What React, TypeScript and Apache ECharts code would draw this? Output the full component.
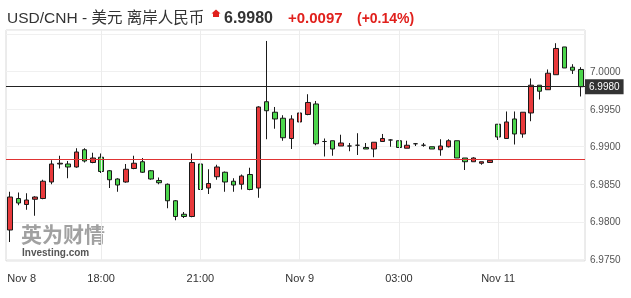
import React, { useEffect, useRef } from "react";
import * as echarts from "echarts";

const times = [
  "11-08 15:15", "11-08 15:30", "11-08 15:45", "11-08 16:00", "11-08 16:15", "11-08 16:30", "11-08 16:45",
  "11-08 17:00", "11-08 17:15", "11-08 17:30", "11-08 17:45", "11-08 18:00", "11-08 18:15", "11-08 18:30",
  "11-08 18:45", "11-08 19:00", "11-08 19:15", "11-08 19:30", "11-08 19:45", "11-08 20:00", "11-08 20:15",
  "11-08 20:30", "11-08 20:45", "11-08 21:00", "11-08 21:15", "11-08 21:30", "11-08 21:45", "11-08 22:00",
  "11-08 22:15", "11-08 22:30", "11-08 22:45", "11-08 23:00", "11-08 23:15", "11-08 23:30", "11-08 23:45",
  "11-09 00:00", "11-09 00:15", "11-09 00:30", "11-09 00:45", "11-09 01:00", "11-09 01:15", "11-09 01:30",
  "11-09 01:45", "11-09 02:00", "11-09 02:15", "11-09 02:30", "11-09 02:45", "11-09 03:00", "11-09 03:15",
  "11-09 03:30", "11-09 03:45", "11-09 04:00", "11-09 04:15", "11-09 04:30", "11-09 04:45", "11-09 05:00",
  "11-09 05:15", "11-09 05:30", "11-09 05:45",
  "11-11 06:00", "11-11 06:15", "11-11 06:30", "11-11 06:45", "11-11 07:00", "11-11 07:15", "11-11 07:30",
  "11-11 07:45", "11-11 08:00", "11-11 08:15", "11-11 08:30",
];

const openV = [
  6.9789, 6.9831, 6.9823, 6.9830, 6.9831, 6.9853, 6.9877, 6.9877, 6.9873, 6.9896,
  6.9879, 6.9886, 6.9868, 6.9857, 6.9853, 6.9871, 6.9880, 6.9868, 6.9855, 6.9850,
  6.9828, 6.9810, 6.9807, 6.9877, 6.9845, 6.9860, 6.9866, 6.9854, 6.9850, 6.9863,
  6.9845, 6.9960, 6.9946, 6.9938, 6.9911, 6.9933, 6.9943, 6.9957, 6.9907, 6.9908,
  6.9901, 6.9901, 6.9902, 6.9899, 6.9897, 6.9907, 6.9909, 6.9908, 6.9898, 6.9904,
  6.9902, 6.9900, 6.9896, 6.9900, 6.9908, 6.9885, 6.9880, 6.9878, 6.9879, 6.9930,
  6.9911, 6.9937, 6.9917, 6.9945, 6.9982, 6.9976, 6.9996, 7.0033, 7.0006, 7.0003,
];
const closeV = [
  6.9833, 6.9825, 6.9829, 6.9833, 6.9854, 6.9877, 6.9878, 6.9873, 6.9893, 6.9881,
  6.9885, 6.9867, 6.9856, 6.9849, 6.9870, 6.9878, 6.9866, 6.9857, 6.9852, 6.9828,
  6.9807, 6.9807, 6.9879, 6.9843, 6.9851, 6.9873, 6.9853, 6.9849, 6.9861, 6.9843,
  6.9953, 6.9948, 6.9937, 6.9912, 6.9937, 6.9945, 6.9959, 6.9904, 6.9907, 6.9897,
  6.9905, 6.9901, 6.9902, 6.9897, 6.9906, 6.9911, 6.9909, 6.9899, 6.9902, 6.9904,
  6.9902, 6.9897, 6.9901, 6.9908, 6.9885, 6.9880, 6.9885, 6.9880, 6.9882, 6.9913,
  6.9933, 6.9917, 6.9946, 6.9982, 6.9974, 6.9998, 7.0031, 7.0005, 7.0002, 6.9980,
];
const lowV = [
  6.9773, 6.9822, 6.9816, 6.9808, 6.9830, 6.9850, 6.9871, 6.9858, 6.9872, 6.9879,
  6.9878, 6.9865, 6.9845, 6.9840, 6.9852, 6.9870, 6.9865, 6.9856, 6.9850, 6.9818,
  6.9802, 6.9805, 6.9806, 6.9833, 6.9837, 6.9856, 6.9840, 6.9840, 6.9843, 6.9842,
  6.9832, 6.9910, 6.9924, 6.9908, 6.9897, 6.9925, 6.9942, 6.9902, 6.9887, 6.9888,
  6.9901, 6.9894, 6.9889, 6.9897, 6.9886, 6.9907, 6.9900, 6.9899, 6.9898, 6.9901,
  6.9900, 6.9897, 6.9888, 6.9899, 6.9885, 6.9869, 6.9880, 6.9876, 6.9879, 6.9909,
  6.9911, 6.9903, 6.9912, 6.9934, 6.9963, 6.9976, 6.9996, 7.0005, 6.9997, 6.9967,
];
const highV = [
  6.9840, 6.9839, 6.9838, 6.9834, 6.9856, 6.9882, 6.9888, 6.9881, 6.9898, 6.9898,
  6.9892, 6.9891, 6.9869, 6.9858, 6.9877, 6.9888, 6.9885, 6.9869, 6.9859, 6.9851,
  6.9829, 6.9813, 6.9891, 6.9891, 6.9870, 6.9876, 6.9867, 6.9858, 6.9863, 6.9872,
  6.9954, 7.0041, 6.9953, 6.9942, 6.9942, 6.9954, 6.9970, 6.9961, 6.9911, 6.9908,
  6.9916, 6.9905, 6.9918, 6.9905, 6.9906, 6.9917, 6.9910, 6.9908, 6.9908, 6.9905,
  6.9905, 6.9900, 6.9910, 6.9910, 6.9908, 6.9885, 6.9886, 6.9880, 6.9883, 6.9930,
  6.9947, 6.9947, 6.9946, 6.9991, 6.9982, 7.0003, 7.0038, 7.0033, 7.0010, 7.0006,
];

const tickIndex = [0, 11, 23, 35, 47, 59];
const tickText = ["Nov 8", "18:00", "21:00", "Nov 9", "03:00", "Nov 11"];

const lastPrice = 6.998;
const prevClose = 6.9883;
const yMin = 6.97477;
const yMax = 7.00556;

const titleText = "USD/CNH - 美元 离岸人民币";
const priceText = "6.9980";
const changeText = "+0.0097";
const pctText = "(+0.14%)";

const LAT = '"Liberation Sans", Arial, "Noto Sans CJK SC", sans-serif';

export default function App() {
  const ref = useRef<HTMLDivElement>(null);
  useEffect(() => {
    if (!ref.current) return;
    const chart = echarts.init(ref.current, null, { renderer: "svg" });
    const data = openV.map((o, i) => [o, closeV[i], lowV[i], highV[i]]);
    const vLines = tickIndex.slice(1).map((i) => ({
      xAxis: times[i],
      lineStyle: { color: "#ececec", width: 1, type: "solid" },
      label: { show: false },
    }));
    chart.setOption({
      animation: false,
      grid: {
        left: 6, top: 30, right: 46, bottom: 37,
        show: true, borderColor: "#d8d8d8", borderWidth: 1,
      },
      xAxis: {
        type: "category",
        data: times,
        boundaryGap: true,
        axisLine: { show: false },
        axisTick: { show: false },
        splitLine: { show: false },
        axisLabel: {
          interval: (i: number) => tickIndex.includes(i),
          formatter: (_v: string, i: number) => {
            const k = tickIndex.indexOf(i);
            if (k < 0) return "";
            return k === 0 ? "{first|" + tickText[k] + "}" : tickText[k];
          },
          color: "#333",
          fontSize: 11,
          fontFamily: LAT,
          margin: 11,
          rich: {
            first: { padding: [0, 0, 0, 23], fontSize: 11, color: "#333", fontFamily: LAT },
          },
        },
      },
      yAxis: {
        type: "value",
        position: "right",
        min: yMin,
        max: yMax,
        splitNumber: 5,
        axisLine: { show: false },
        axisTick: { show: false },
        splitLine: { lineStyle: { color: "#f0f0f0" } },
        axisLabel: {
          formatter: (v: number) => (v < 6.9749 || v > 7.0001 ? "" : v.toFixed(4)),
          color: "#555",
          fontSize: 10,
          fontFamily: LAT,
          margin: 5,
        },
      },
      series: [
        {
          type: "line",
          data: closeV.map(() => null),
          showSymbol: false,
          silent: true,
          z: 1,
          lineStyle: { opacity: 0 },
          markLine: {
            silent: true,
            symbol: ["none", "none"],
            precision: 6,
            animation: false,
            data: [
              ...vLines,
              {
                yAxis: lastPrice,
                lineStyle: { color: "#222", width: 1, type: "solid", opacity: 1 },
                label: {
                  show: true,
                  position: "end",
                  formatter: priceText,
                  color: "#fff",
                  backgroundColor: "#333",
                  padding: [3, 4, 2, 4],
                  fontSize: 10,
                  fontFamily: LAT,
                  distance: 0,
                },
              },
            ],
          },
        },
        {
          type: "line",
          data: closeV.map(() => null),
          showSymbol: false,
          silent: true,
          z: 2,
          color: "#e03434",
          lineStyle: { opacity: 0 },
          markLine: {
            silent: true,
            symbol: ["none", "none"],
            precision: 6,
            animation: false,
            lineStyle: { color: "#e03434", width: 1, type: "solid", opacity: 1 },
            label: { show: false },
            data: [{ yAxis: prevClose }],
          },
        },
        {
          type: "candlestick",
          data,
          barWidth: 5,
          silent: true,
          z: 3,
          itemStyle: {
            color: "#e8393b",
            color0: "#4cd64c",
            borderColor: "#1a1a1a",
            borderColor0: "#1a1a1a",
            borderWidth: 1,
          },
        },
      ],
      graphic: [
        {
          type: "text", x: 7, y: 17.5,
          style: { text: titleText, fill: "#333", font: "15.5px " + LAT, verticalAlign: "middle", align: "left" },
        },
        {
          type: "polygon",
          shape: { points: [[216, 9.5], [220.5, 13.5], [219, 13.5], [219, 17], [213, 17], [213, 13.5], [211.5, 13.5]] },
          style: { fill: "#e0201c" },
        },
        {
          type: "text", x: 224, y: 17.5,
          style: { text: priceText, fill: "#333", font: "bold 16px " + LAT, verticalAlign: "middle", align: "left" },
        },
        {
          type: "text", x: 288, y: 17.5,
          style: { text: changeText, fill: "#e0201c", font: "bold 15px " + LAT, verticalAlign: "middle", align: "left" },
        },
        {
          type: "text", x: 357, y: 17.5,
          style: { text: pctText, fill: "#e0201c", font: "bold 14px " + LAT, verticalAlign: "middle", align: "left" },
        },
        {
          type: "text", x: 21, y: 233,
          style: { text: "英为财情", fill: "rgba(130,130,130,0.75)", font: 'bold 21px "Noto Sans CJK SC", sans-serif', verticalAlign: "middle", align: "left" },
        },
        {
          type: "text", x: 22, y: 252,
          style: { text: "Investing.com", fill: "#555", font: "bold 10px " + LAT, verticalAlign: "middle", align: "left" },
        },
      ],
    });
    return () => chart.dispose();
  }, []);
  return (
    <div
      ref={ref}
      style={{ position: "fixed", left: 0, top: 0, width: 631, height: 298 }}
    />
  );
}
